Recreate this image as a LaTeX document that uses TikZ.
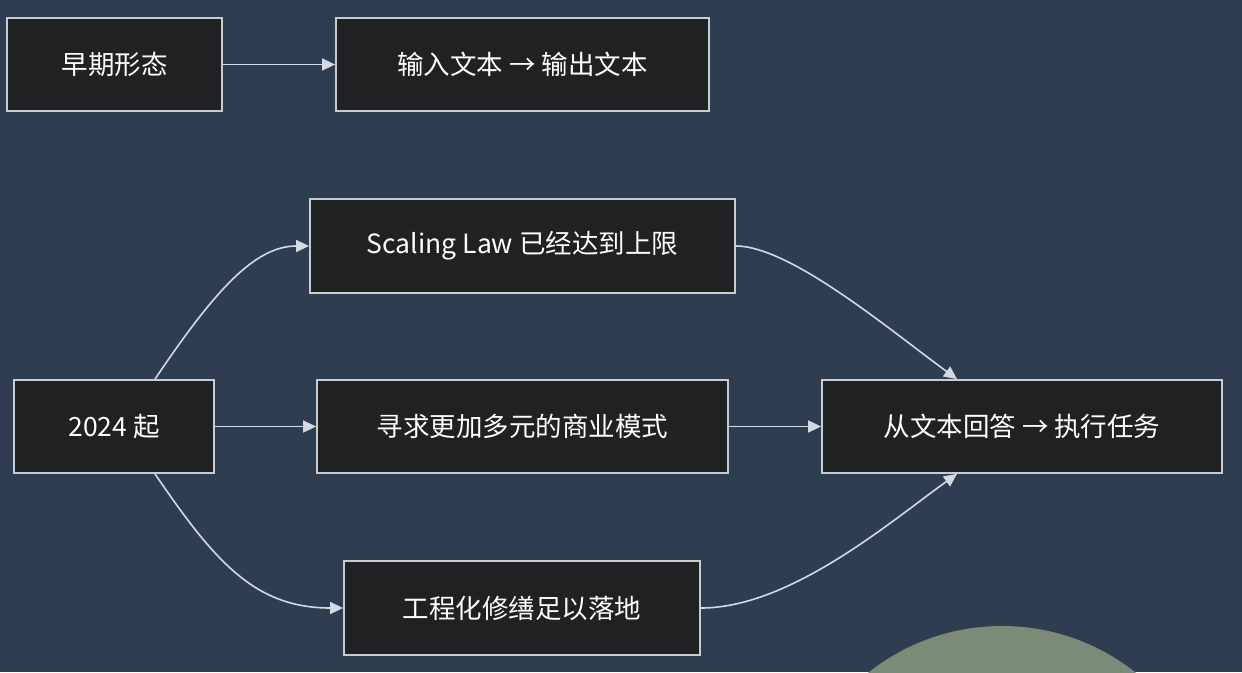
\documentclass[tikz,border=0pt]{standalone}
\usepackage{fontspec}
\setmainfont{Noto Sans CJK SC}
\usetikzlibrary{arrows.meta}
\definecolor{bg}{HTML}{2E3D4F}
\definecolor{boxfill}{HTML}{1F2123}
\definecolor{boxline}{HTML}{C8CCD0}
\definecolor{edge}{HTML}{D4DAE2}
\definecolor{blob}{HTML}{7B8B78}
\tikzset{
  box/.style={draw=boxline, line width=1.8pt, fill=boxfill, text=white, font=\fontsize{26.5}{30}\selectfont, inner sep=0pt, anchor=center},
  link/.style={draw=edge, line width=1.6pt, -{Triangle[length=13pt,width=12pt]}}
}
\begin{document}
\begin{tikzpicture}[x=1pt,y=-1pt]
\path[use as bounding box] (0,0) rectangle (1242,672);
\fill[bg] (0,0) rectangle (1242,672);
\begin{scope}
\clip (0,0) rectangle (1242,672);
\fill[blob] (1002,841) circle (215);
\end{scope}
\node[box, minimum width=215pt, minimum height=93pt] (A) at (114.5,64.5) {早期形态};
\node[box, minimum width=373pt, minimum height=93pt] (B) at (522.5,64.5) {输入文本 → 输出文本};
\node[box, minimum width=200pt, minimum height=93pt] (C) at (114,426.5) {2024 起};
\node[box, minimum width=425pt, minimum height=94pt] (D) at (522.5,246) {Scaling Law 已经达到上限};
\node[box, minimum width=411pt, minimum height=93pt] (E) at (522.5,426.5) {寻求更加多元的商业模式};
\node[box, minimum width=356pt, minimum height=94pt] (F) at (522,608) {工程化修缮足以落地};
\node[box, minimum width=400pt, minimum height=93pt] (G) at (1022,426.5) {从文本回答 → 执行任务};
\draw[link] (A) -- (B);
\draw[link] (C) -- (E);
\draw[link] (E) -- (G);
\draw[link] ([xshift=41pt]C.north) .. controls (215,290) and (255,246) .. (D.west);
\draw[link] ([xshift=41pt]C.south) .. controls (215,562) and (255,608) .. (F.west);
\draw[link] (D.east) .. controls (790,246) and (890,330) .. ([xshift=-65pt]G.north);
\draw[link] (F.east) .. controls (790,608) and (890,522) .. ([xshift=-65pt]G.south);
\end{tikzpicture}
\end{document}
